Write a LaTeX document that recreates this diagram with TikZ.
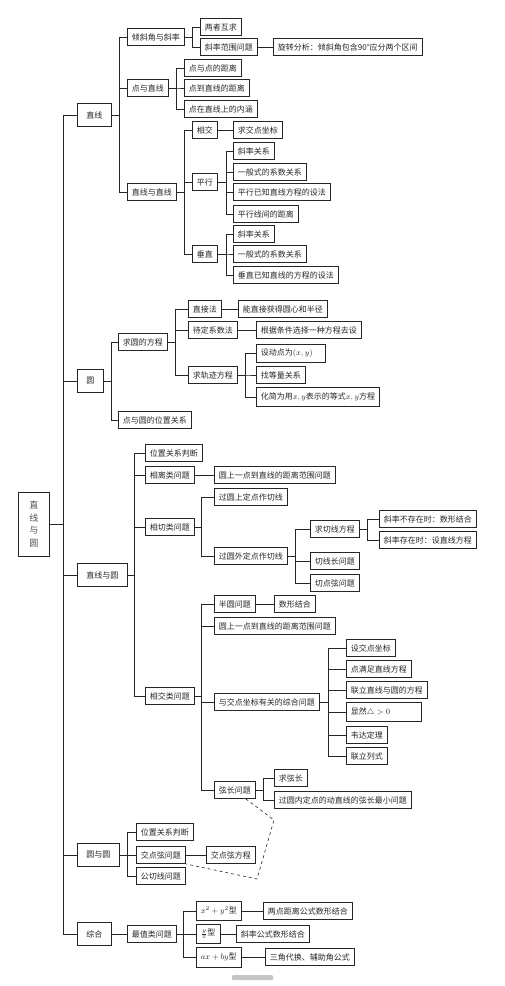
\documentclass[tikz,border=0pt]{standalone}
\usepackage{fontspec}
\newfontfamily\cjk{Noto Sans CJK SC}
\definecolor{ink}{HTML}{262626}

\begin{document}
\begin{tikzpicture}[x=1pt, y=-1pt, line width=0.8pt, draw=ink,
  box/.style={draw=ink, text=ink, anchor=west, inner xsep=4.5pt, inner ysep=1pt,
    minimum height=17pt, font=\cjk\fontsize{8}{9.6}\selectfont},
  topic/.style={box, inner xsep=9pt, minimum height=23pt}]
  \useasboundingbox (0,0) rectangle (504,986);
  % root
  \node[box, minimum width=31pt, minimum height=64pt, inner xsep=2pt, align=center,
    font=\cjk\fontsize{9}{12.7}\selectfont, text=ink!80] (root) at (18,524) {直\\线\\与\\圆};
  % first level
  \node[topic] (zx) at (77,115) {直线};
  \node[topic] (yuan) at (77,381) {圆};
  \node[topic] (zxy) at (77,575) {直线与圆};
  \node[topic] (yy) at (77,855) {圆与圆};
  \node[topic] (zh) at (77,934) {综合};
  \foreach \c in {zx,yuan,zxy,yy,zh} {
    \draw (root.east) -- ++(14,0) |- (\c.west);
  }

  % 直线
  \node[box] (qxj) at (127,37) {倾斜角与斜率};
  \node[box] (dyzx) at (127,88) {点与直线};
  \node[box] (zxzx) at (127,192) {直线与直线};
  \foreach \c in {qxj,dyzx,zxzx} {
    \draw (zx.east) -- ++(8,0) |- (\c.west);
  }
  \node[box] (hq) at (200,27) {两者互求};
  \node[box] (fw) at (200,47) {斜率范围问题};
  \node[box] (xz) at (273,47) {旋转分析：倾斜角包含90°应分两个区间};
  \foreach \c in {hq,fw} {
    \draw (qxj.east) -- ++(8,0) |- (\c.west);
  }
  \draw (fw.east) -- (xz.west);
  \node[box] (dd) at (184,68) {点与点的距离};
  \node[box] (ddx) at (184,88) {点到直线的距离};
  \node[box] (dzx) at (184,109) {点在直线上的内涵};
  \foreach \c in {dd,ddx,dzx} {
    \draw (dyzx.east) -- ++(8,0) |- (\c.west);
  }
  \node[box] (xj) at (192,130) {相交};
  \node[box] (jd) at (233,130) {求交点坐标};
  \node[box] (px) at (192,182) {平行};
  \node[box] (cz) at (192,254) {垂直};
  \foreach \c in {xj,px,cz} {
    \draw (zxzx.east) -- ++(8,0) |- (\c.west);
  }
  \draw (xj.east) -- (jd.west);
  \node[box] (px1) at (233,151) {斜率关系};
  \node[box] (px2) at (233,172) {一般式的系数关系};
  \node[box] (px3) at (233,192) {平行已知直线方程的设法};
  \node[box] (px4) at (233,214) {平行线间的距离};
  \foreach \c in {px1,px2,px3,px4} {
    \draw (px.east) -- ++(9,0) |- (\c.west);
  }
  \node[box] (cz1) at (233,234) {斜率关系};
  \node[box] (cz2) at (233,254) {一般式的系数关系};
  \node[box] (cz3) at (233,275) {垂直已知直线的方程的设法};
  \foreach \c in {cz1,cz2,cz3} {
    \draw (cz.east) -- ++(9,0) |- (\c.west);
  }

  % 圆
  \node[box] (fc) at (118,342) {求圆的方程};
  \node[box] (dyw) at (118,420) {点与圆的位置关系};
  \foreach \c in {fc,dyw} {
    \draw (yuan.east) -- ++(8,0) |- (\c.west);
  }
  \node[box] (zj) at (188,309) {直接法};
  \node[box] (zj1) at (238,309) {能直接获得圆心和半径};
  \node[box] (dx) at (188,330) {待定系数法};
  \node[box] (dx1) at (256,330) {根据条件选择一种方程去设};
  \node[box] (gj) at (188,375) {求轨迹方程};
  \foreach \c in {zj,dx,gj} {
    \draw (fc.east) -- ++(8,0) |- (\c.west);
  }
  \draw (zj.east) -- (zj1.west);
  \draw (dx.east) -- (dx1.west);
  \node[box, text width=60pt, align=left, minimum height=18pt] (gj1) at (256,353) {设动点为$(x,y)$};
  \node[box] (gj2) at (256,375) {找等量关系};
  \node[box, minimum height=19pt] (gj3) at (256,397) {化简为用$x,y$表示的等式$x,y$方程};
  \foreach \c in {gj1,gj2,gj3} {
    \draw (gj.east) -- ++(8,0) |- (\c.west);
  }

  % 直线与圆
  \node[box] (wz) at (145,453) {位置关系判断};
  \node[box] (xl) at (145,475) {相离类问题};
  \node[box] (xq) at (145,527) {相切类问题};
  \node[box] (xjl) at (145,696) {相交类问题};
  \foreach \c in {wz,xl,xq,xjl} {
    \draw (zxy.east) -- ++(7,0) |- (\c.west);
  }
  \node[box] (xl1) at (214,475) {圆上一点到直线的距离范围问题};
  \draw (xl.east) -- (xl1.west);
  \node[box] (qs) at (214,497) {过圆上定点作切线};
  \node[box] (qw) at (214,556) {过圆外定点作切线};
  \foreach \c in {qs,qw} {
    \draw (xq.east) -- ++(7,0) |- (\c.west);
  }
  \node[box] (qf) at (310,529) {求切线方程};
  \node[box] (qc) at (310,561) {切线长问题};
  \node[box] (qd) at (310,583) {切点弦问题};
  \foreach \c in {qf,qc,qd} {
    \draw (qw.east) -- ++(8,0) |- (\c.west);
  }
  \node[box] (qf1) at (379,519) {斜率不存在时：数形结合};
  \node[box] (qf2) at (379,540) {斜率存在时：设直线方程};
  \foreach \c in {qf1,qf2} {
    \draw (qf.east) -- ++(8,0) |- (\c.west);
  }
  \node[box] (by) at (214,604) {半圆问题};
  \node[box] (by1) at (274,604) {数形结合};
  \node[box] (yd) at (214,626) {圆上一点到直线的距离范围问题};
  \node[box] (jz) at (214,702) {与交点坐标有关的综合问题};
  \node[box] (xc) at (214,790) {弦长问题};
  \foreach \c in {by,yd,jz,xc} {
    \draw (xjl.east) -- ++(7,0) |- (\c.west);
  }
  \draw (by.east) -- (by1.west);
  \node[box] (jz1) at (346,648) {设交点坐标};
  \node[box] (jz2) at (346,669) {点满足直线方程};
  \node[box] (jz3) at (346,690) {联立直线与圆的方程};
  \node[box, text width=66pt, align=left, minimum height=19pt] (jz4) at (346,712) {显然$\triangle > 0$};
  \node[box] (jz5) at (346,735) {韦达定理};
  \node[box] (jz6) at (346,756) {联立列式};
  \foreach \c in {jz1,jz2,jz3,jz4,jz5,jz6} {
    \draw (jz.east) -- ++(9,0) |- (\c.west);
  }
  \node[box] (xc1) at (274,778) {求弦长};
  \node[box] (xc2) at (274,800) {过圆内定点的动直线的弦长最小问题};
  \foreach \c in {xc1,xc2} {
    \draw (xc.east) -- ++(8,0) |- (\c.west);
  }

  % 圆与圆
  \node[box] (yy1) at (136,832) {位置关系判断};
  \node[box] (yy2) at (136,855) {交点弦问题};
  \node[box] (yy3) at (136,876) {公切线问题};
  \foreach \c in {yy1,yy2,yy3} {
    \draw (yy.east) -- ++(8,0) |- (\c.west);
  }
  \node[box] (yy4) at (206,855) {交点弦方程};
  \draw (yy2.east) -- (yy4.west);

  % 综合
  \node[box] (zz) at (127,934) {最值类问题};
  \draw (zh.east) -- (zz.west);
  \node[box, minimum height=19pt] (m1) at (196,911) {$x^2+y^2$型};
  \node[box, minimum height=19pt] (m2) at (196,934) {$\frac{y}{x}$型};
  \node[box, minimum height=20pt] (m3) at (196,957) {$ax+by$型};
  \foreach \c in {m1,m2,m3} {
    \draw (zz.east) -- ++(7,0) |- (\c.west);
  }
  \node[box] (m1a) at (263,911) {两点距离公式数形结合};
  \node[box] (m2a) at (236,934) {斜率公式数形结合};
  \node[box] (m3a) at (265,957) {三角代换、辅助角公式};
  \draw (m1.east) -- (m1a.west);
  \draw (m2.east) -- (m2a.west);
  \draw (m3.east) -- (m3a.west);

  % dashed link
  \coordinate (d1) at (274,820);
  \coordinate (d2) at (257,879);
  \draw[dashed, line width=0.6pt] ([xshift=-10pt]xc.south east) -- (d1) -- (d2) -- (yy2.south east);

  % mark at the foot
  \fill[gray!45, rounded corners=1pt] (232,975) rectangle (273,980);
\end{tikzpicture}
\end{document}
